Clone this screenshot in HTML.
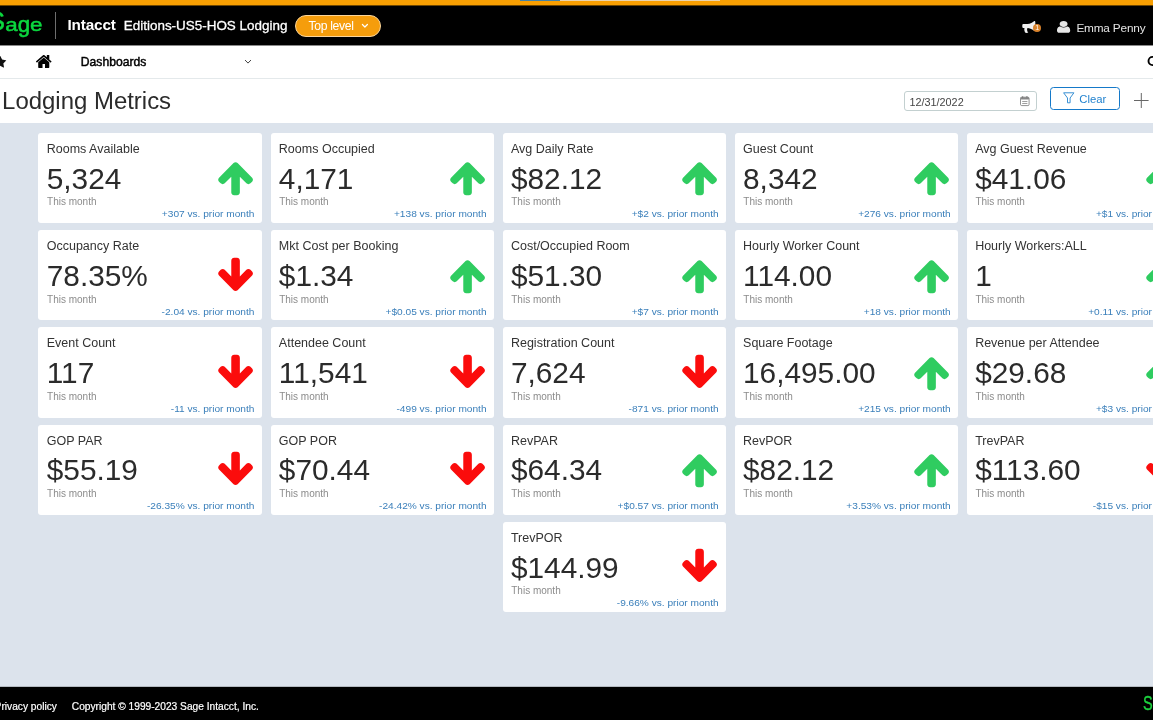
<!DOCTYPE html>
<html lang="en">
<head>
<meta charset="utf-8">
<title>Lodging Metrics</title>
<style>
*{box-sizing:border-box;margin:0;padding:0}
html,body{width:1153px;height:720px;overflow:hidden;background:#dce3ec;font-family:"Liberation Sans",Arial,Helvetica,sans-serif;color:#333}
body{position:relative}
.abs{position:absolute}
svg{display:block;overflow:visible}
#topbar{left:0;top:0;width:1153px;height:6px;background:linear-gradient(#f89f02 0,#f89f02 5px,#6e4600 5px)}
#tb1{left:520px;top:0;width:40px;height:1px;background:#4582a6}
#tb2{left:560px;top:0;width:160px;height:1px;background:#ead4ae}
#hdr{left:0;top:6px;width:1153px;height:40px;background:linear-gradient(#000 0,#000 39px,#8a8a8a 39px)}
#logo{left:0;top:0;color:#0bd83f;white-space:nowrap;-webkit-text-stroke:0.55px #0bd83f}
#logo b{font-weight:400;position:absolute;left:-11.9px;top:6.6px;font-size:25.4px;line-height:28px}
#logo span{position:absolute;left:5.2px;top:10.8px;font-size:22.4px;line-height:26px;transform:scaleY(0.855);transform-origin:0 20.77px}
#logo i{font-style:normal;display:inline-block;transform:scaleY(1.13);transform-origin:0 7.6px}
#sep{left:55px;top:12px;width:1.2px;height:27px;background:#6e6e6e}
#intacct{left:67.5px;top:16.3px;font-size:15.3px;letter-spacing:-0.15px;line-height:18px;font-weight:700;color:#fff;white-space:nowrap}
#company{left:123.8px;top:16.9px;font-size:13.45px;line-height:18px;color:#fff;white-space:nowrap;-webkit-text-stroke:0.3px #fff}
#pill{left:295px;top:14.8px;width:86px;height:22px;border-radius:11px;background:#f59d0c;border:1px solid #fbd59a;color:#fff;font-size:12.2px;letter-spacing:-0.33px;line-height:20.6px;padding-left:12.5px;white-space:nowrap}
#pillchev{left:362.3px;top:24.2px;width:5.8px;height:3.6px}
#horn{left:1022.4px;top:20.9px;width:14.6px;height:12px}
#badge{left:1033.2px;top:24px;width:8.2px;height:8.2px;border-radius:50%;background:#d9822b;color:#fff;font-size:7px;line-height:8.2px;text-align:center}
#uicon{left:1057px;top:20.9px;width:13.2px;height:11.8px}
#user{left:1076.4px;top:20.6px;letter-spacing:-0.18px;font-size:11.8px;line-height:14px;color:#e4e4e4;white-space:nowrap}
#nav{left:0;top:46px;width:1153px;height:33px;background:#fff;border-bottom:1px solid #e4e9eb}
#star{left:-6.1px;top:55.8px;width:12.2px;height:11.6px}
#home{left:35.6px;top:54.9px;width:15.5px;height:12.9px}
#dash{left:80.8px;top:53.6px;font-size:12.15px;line-height:16px;color:#000;white-space:nowrap;-webkit-text-stroke:0.45px #000}
#navchev{left:245.3px;top:59.7px;width:6px;height:3.5px}
#search{left:1147.4px;top:55.6px;width:12px;height:12px}
#titlebar{left:0;top:79px;width:1153px;height:43.6px;background:#fff}
#title{left:2.1px;top:85.5px;font-size:23.95px;line-height:30px;color:#2b2b2b;white-space:nowrap}
#date{left:904px;top:91.4px;width:133px;height:19.4px;border:1px solid #c3d0d0;border-radius:3px;background:#fff;font-size:10.8px;line-height:17.4px;padding-left:4.6px;padding-top:1.2px;color:#444}
#cal{left:1020.3px;top:96px;width:9.6px;height:10.2px}
#clear{left:1050px;top:86.7px;width:70px;height:23.2px;border:1.5px solid #1579c9;border-radius:3.5px;background:#fff;color:#2383cf;font-size:11.3px;line-height:20.2px;padding-left:28.3px;padding-top:1.2px}
#funnel{left:1063.4px;top:92.1px;width:11.5px;height:11.4px}
#plus{left:1134px;top:92.6px;width:14.6px;height:15px}
#footer{left:0;top:686px;width:1153px;height:34px;background:linear-gradient(#b4bac1 0,#b4bac1 1px,#000 1px)}
.ft{top:699.8px;font-size:10.2px;line-height:14px;color:#fff;white-space:nowrap;-webkit-text-stroke:0.2px #fff}
#flogo{left:1142.6px;top:691.6px;font-size:19.6px;line-height:22px;color:#1dd43f;white-space:nowrap;-webkit-text-stroke:0.4px #1dd43f;transform:scaleX(0.74);transform-origin:0 0}
.card{position:absolute;width:223.6px;height:90.3px;background:#fff;border-radius:3px}
.card .t{position:absolute;left:8.3px;top:7.9px;font-size:12.5px;line-height:16px;color:#333;white-space:nowrap}
.card .v{position:absolute;left:8.3px;top:28.8px;font-size:29.8px;line-height:34px;color:#2b2b2b;white-space:nowrap}
.card .m{position:absolute;left:8.6px;top:62.6px;font-size:10px;line-height:14px;color:#8c8c8c;white-space:nowrap}
.card .d{position:absolute;right:7.6px;top:74.6px;font-size:10.15px;line-height:14px;color:#3a7fba;white-space:nowrap;transform:scaleY(0.94);transform-origin:0 11px}
.card .ar{position:absolute;left:178.2px;top:25.6px;width:37.14px;height:40px}
.card .ar.up path{fill:#2fcc60}
.card .ar.down{margin-top:-1.2px}
.card .ar.down path{fill:#fb0c0c}
</style>
</head>
<body>
<div class="abs" id="topbar"></div>
<div class="abs" id="tb1"></div>
<div class="abs" id="tb2"></div>
<div class="abs" id="hdr"></div>
<div class="abs" id="logo"><b>S</b><span>a<i>g</i>e</span></div>
<div class="abs" id="sep"></div>
<div class="abs" id="intacct">Intacct</div>
<div class="abs" id="company">Editions-US5-HOS Lodging</div>
<div class="abs" id="pill">Top level</div>
<svg class="abs" id="pillchev" viewBox="0 0 58 36"><path d="M4 5 L29 30 L54 5" fill="none" stroke="#fff" stroke-width="12" stroke-linecap="round" stroke-linejoin="round"/></svg>
<svg class="abs" id="horn" viewBox="0 -1408 1792 1536"><g transform="scale(1,-1)"><path fill="#f0f0f0" d="M1664 896V1280C1664 1350 1606 1408 1536 1408C1344 1248 1024 1024 640 1024H160C72 1024 0 952 0 864V672C0 584 72 512 160 512H282C212 287 298 109 356 -69C448 -154 706 -152 768 -30C662 53 572 134 642 249C564 329 605 468 724 508C1071 479 1358 276 1536 128C1606 128 1664 186 1664 256V640C1735 640 1792 697 1792 768C1792 839 1735 896 1664 896Z"/></g></svg>
<div class="abs" id="badge">1</div>
<svg class="abs" id="uicon" viewBox="0 -1408 1280 1536" preserveAspectRatio="none"><g transform="scale(1,-1)"><path fill="#e6e6e6" d="M1280 137C1280 400 1215 704 953 704C872 625 762 576 640 576C518 576 408 625 327 704C65 704 0 400 0 137C0 -9 96 -128 213 -128H1067C1184 -128 1280 -9 1280 137ZM1024 1024C1024 1236 852 1408 640 1408C428 1408 256 1236 256 1024C256 812 428 640 640 640C852 640 1024 812 1024 1024Z"/></g></svg>
<div class="abs" id="user">Emma Penny</div>
<div class="abs" id="nav"></div>
<svg class="abs" id="star" viewBox="0 -1504 1664 1587"><g transform="scale(1,-1)"><path fill="#111" d="M1664 889C1664 919 1632 931 1608 935L1106 1008L881 1463C872 1482 855 1504 832 1504C809 1504 792 1482 783 1463L558 1008L56 935C31 931 0 919 0 889C0 871 13 854 25 841L389 487L303 -13C302 -20 301 -26 301 -33C301 -59 314 -83 343 -83C357 -83 370 -78 383 -71L832 165L1281 -71C1293 -78 1307 -83 1321 -83C1350 -83 1362 -59 1362 -33C1362 -26 1362 -20 1361 -13L1275 487L1638 841C1651 854 1664 871 1664 889Z"/></g></svg>
<svg class="abs" id="home" viewBox="26 -1284 1612 1284" preserveAspectRatio="none"><g transform="scale(1,-1)"><path fill="#000" d="M1408 544C1408 546 1408 548 1407 550L832 1024L257 550C257 548 256 546 256 544V64C256 29 285 0 320 0H704V384H960V0H1344C1379 0 1408 29 1408 64ZM1631 613C1642 626 1640 647 1627 658L1408 840V1248C1408 1266 1394 1280 1376 1280H1184C1166 1280 1152 1266 1152 1248V1053L908 1257C866 1292 798 1292 756 1257L37 658C24 647 22 626 33 613L95 539C100 533 108 529 116 528C125 527 133 530 140 535L832 1112L1524 535C1530 530 1537 528 1545 528C1546 528 1547 528 1548 528C1556 529 1564 533 1569 539L1631 613Z"/></g></svg>
<div class="abs" id="dash">Dashboards</div>
<svg class="abs" id="navchev" viewBox="0 0 60 35"><path d="M3 3 L30 31 L57 3" fill="none" stroke="#444" stroke-width="10" stroke-linecap="round" stroke-linejoin="round"/></svg>
<svg class="abs" id="search" viewBox="0 0 12 12"><circle cx="5.6" cy="5" r="4.1" fill="none" stroke="#000" stroke-width="1.9"/></svg>
<div class="abs" id="titlebar"></div>
<div class="abs" id="title">Lodging Metrics</div>
<div class="abs" id="date">12/31/2022</div>
<svg class="abs" id="cal" viewBox="0 0 96 102"><rect x="5" y="12" width="86" height="84" rx="12" fill="none" stroke="#777" stroke-width="8"/><rect x="5" y="12" width="86" height="24" rx="8" fill="#888"/><rect x="22" y="0" width="9" height="22" rx="4" fill="#777"/><rect x="65" y="0" width="9" height="22" rx="4" fill="#777"/><rect x="22" y="52" width="52" height="8" fill="#888"/><rect x="22" y="70" width="52" height="8" fill="#888"/></svg>
<div class="abs" id="clear">Clear</div>
<svg class="abs" id="funnel" viewBox="0 0 115 114"><path d="M6 8 H109 L71 60 V108 H45 V60 Z" fill="none" stroke="#2383cf" stroke-width="9" stroke-linejoin="round"/></svg>
<svg class="abs" id="plus" viewBox="0 0 146 150"><path d="M73 0 V150 M0 75 H146" fill="none" stroke="#666" stroke-width="10"/></svg>
<div class="card" style="left:38.45px;top:132.90px"><div class="t">Rooms Available</div><div class="v">5,324</div><div class="m">This month</div><div class="d">+307 vs. prior month</div><svg class="ar up" viewBox="0 -1536 1664 1792"><g transform="scale(1,-1)"><path d="M1611 565C1611 599 1597 632 1574 656L923 1307C899 1331 866 1344 832 1344C798 1344 765 1331 742 1307L91 656C67 632 53 599 53 565C53 531 67 499 91 475L166 400C189 376 222 362 256 362C290 362 323 376 346 400L640 693V-11C640 -83 700 -128 768 -128H896C964 -128 1024 -83 1024 -11V693L1318 400C1341 376 1374 362 1408 362C1442 362 1475 376 1499 400L1574 475C1597 499 1611 531 1611 565Z"/></g></svg></div>
<div class="card" style="left:270.55px;top:132.90px"><div class="t">Rooms Occupied</div><div class="v">4,171</div><div class="m">This month</div><div class="d">+138 vs. prior month</div><svg class="ar up" viewBox="0 -1536 1664 1792"><g transform="scale(1,-1)"><path d="M1611 565C1611 599 1597 632 1574 656L923 1307C899 1331 866 1344 832 1344C798 1344 765 1331 742 1307L91 656C67 632 53 599 53 565C53 531 67 499 91 475L166 400C189 376 222 362 256 362C290 362 323 376 346 400L640 693V-11C640 -83 700 -128 768 -128H896C964 -128 1024 -83 1024 -11V693L1318 400C1341 376 1374 362 1408 362C1442 362 1475 376 1499 400L1574 475C1597 499 1611 531 1611 565Z"/></g></svg></div>
<div class="card" style="left:502.65px;top:132.90px"><div class="t">Avg Daily Rate</div><div class="v">$82.12</div><div class="m">This month</div><div class="d">+$2 vs. prior month</div><svg class="ar up" viewBox="0 -1536 1664 1792"><g transform="scale(1,-1)"><path d="M1611 565C1611 599 1597 632 1574 656L923 1307C899 1331 866 1344 832 1344C798 1344 765 1331 742 1307L91 656C67 632 53 599 53 565C53 531 67 499 91 475L166 400C189 376 222 362 256 362C290 362 323 376 346 400L640 693V-11C640 -83 700 -128 768 -128H896C964 -128 1024 -83 1024 -11V693L1318 400C1341 376 1374 362 1408 362C1442 362 1475 376 1499 400L1574 475C1597 499 1611 531 1611 565Z"/></g></svg></div>
<div class="card" style="left:734.75px;top:132.90px"><div class="t">Guest Count</div><div class="v">8,342</div><div class="m">This month</div><div class="d">+276 vs. prior month</div><svg class="ar up" viewBox="0 -1536 1664 1792"><g transform="scale(1,-1)"><path d="M1611 565C1611 599 1597 632 1574 656L923 1307C899 1331 866 1344 832 1344C798 1344 765 1331 742 1307L91 656C67 632 53 599 53 565C53 531 67 499 91 475L166 400C189 376 222 362 256 362C290 362 323 376 346 400L640 693V-11C640 -83 700 -128 768 -128H896C964 -128 1024 -83 1024 -11V693L1318 400C1341 376 1374 362 1408 362C1442 362 1475 376 1499 400L1574 475C1597 499 1611 531 1611 565Z"/></g></svg></div>
<div class="card" style="left:966.85px;top:132.90px"><div class="t">Avg Guest Revenue</div><div class="v">$41.06</div><div class="m">This month</div><div class="d">+$1 vs. prior month</div><svg class="ar up" viewBox="0 -1536 1664 1792"><g transform="scale(1,-1)"><path d="M1611 565C1611 599 1597 632 1574 656L923 1307C899 1331 866 1344 832 1344C798 1344 765 1331 742 1307L91 656C67 632 53 599 53 565C53 531 67 499 91 475L166 400C189 376 222 362 256 362C290 362 323 376 346 400L640 693V-11C640 -83 700 -128 768 -128H896C964 -128 1024 -83 1024 -11V693L1318 400C1341 376 1374 362 1408 362C1442 362 1475 376 1499 400L1574 475C1597 499 1611 531 1611 565Z"/></g></svg></div>
<div class="card" style="left:38.45px;top:230.15px"><div class="t">Occupancy Rate</div><div class="v">78.35%</div><div class="m">This month</div><div class="d">-2.04 vs. prior month</div><svg class="ar down" viewBox="0 -1536 1664 1792"><g transform="scale(1,-1)"><path d="M1611 704C1611 738 1597 771 1574 795L1499 870C1475 893 1442 907 1408 907C1374 907 1341 893 1318 870L1024 576V1280C1024 1350 966 1408 896 1408H768C698 1408 640 1350 640 1280V576L346 870C323 893 290 907 256 907C222 907 189 893 165 870L91 795C67 771 53 738 53 704C53 670 67 637 91 614L742 -38C765 -61 798 -75 832 -75C866 -75 899 -61 923 -38L1574 614C1597 637 1611 670 1611 704Z"/></g></svg></div>
<div class="card" style="left:270.55px;top:230.15px"><div class="t">Mkt Cost per Booking</div><div class="v">$1.34</div><div class="m">This month</div><div class="d">+$0.05 vs. prior month</div><svg class="ar up" viewBox="0 -1536 1664 1792"><g transform="scale(1,-1)"><path d="M1611 565C1611 599 1597 632 1574 656L923 1307C899 1331 866 1344 832 1344C798 1344 765 1331 742 1307L91 656C67 632 53 599 53 565C53 531 67 499 91 475L166 400C189 376 222 362 256 362C290 362 323 376 346 400L640 693V-11C640 -83 700 -128 768 -128H896C964 -128 1024 -83 1024 -11V693L1318 400C1341 376 1374 362 1408 362C1442 362 1475 376 1499 400L1574 475C1597 499 1611 531 1611 565Z"/></g></svg></div>
<div class="card" style="left:502.65px;top:230.15px"><div class="t">Cost/Occupied Room</div><div class="v">$51.30</div><div class="m">This month</div><div class="d">+$7 vs. prior month</div><svg class="ar up" viewBox="0 -1536 1664 1792"><g transform="scale(1,-1)"><path d="M1611 565C1611 599 1597 632 1574 656L923 1307C899 1331 866 1344 832 1344C798 1344 765 1331 742 1307L91 656C67 632 53 599 53 565C53 531 67 499 91 475L166 400C189 376 222 362 256 362C290 362 323 376 346 400L640 693V-11C640 -83 700 -128 768 -128H896C964 -128 1024 -83 1024 -11V693L1318 400C1341 376 1374 362 1408 362C1442 362 1475 376 1499 400L1574 475C1597 499 1611 531 1611 565Z"/></g></svg></div>
<div class="card" style="left:734.75px;top:230.15px"><div class="t">Hourly Worker Count</div><div class="v">114.00</div><div class="m">This month</div><div class="d">+18 vs. prior month</div><svg class="ar up" viewBox="0 -1536 1664 1792"><g transform="scale(1,-1)"><path d="M1611 565C1611 599 1597 632 1574 656L923 1307C899 1331 866 1344 832 1344C798 1344 765 1331 742 1307L91 656C67 632 53 599 53 565C53 531 67 499 91 475L166 400C189 376 222 362 256 362C290 362 323 376 346 400L640 693V-11C640 -83 700 -128 768 -128H896C964 -128 1024 -83 1024 -11V693L1318 400C1341 376 1374 362 1408 362C1442 362 1475 376 1499 400L1574 475C1597 499 1611 531 1611 565Z"/></g></svg></div>
<div class="card" style="left:966.85px;top:230.15px"><div class="t">Hourly Workers:ALL</div><div class="v">1</div><div class="m">This month</div><div class="d">+0.11 vs. prior month</div><svg class="ar up" viewBox="0 -1536 1664 1792"><g transform="scale(1,-1)"><path d="M1611 565C1611 599 1597 632 1574 656L923 1307C899 1331 866 1344 832 1344C798 1344 765 1331 742 1307L91 656C67 632 53 599 53 565C53 531 67 499 91 475L166 400C189 376 222 362 256 362C290 362 323 376 346 400L640 693V-11C640 -83 700 -128 768 -128H896C964 -128 1024 -83 1024 -11V693L1318 400C1341 376 1374 362 1408 362C1442 362 1475 376 1499 400L1574 475C1597 499 1611 531 1611 565Z"/></g></svg></div>
<div class="card" style="left:38.45px;top:327.40px"><div class="t">Event Count</div><div class="v">117</div><div class="m">This month</div><div class="d">-11 vs. prior month</div><svg class="ar down" viewBox="0 -1536 1664 1792"><g transform="scale(1,-1)"><path d="M1611 704C1611 738 1597 771 1574 795L1499 870C1475 893 1442 907 1408 907C1374 907 1341 893 1318 870L1024 576V1280C1024 1350 966 1408 896 1408H768C698 1408 640 1350 640 1280V576L346 870C323 893 290 907 256 907C222 907 189 893 165 870L91 795C67 771 53 738 53 704C53 670 67 637 91 614L742 -38C765 -61 798 -75 832 -75C866 -75 899 -61 923 -38L1574 614C1597 637 1611 670 1611 704Z"/></g></svg></div>
<div class="card" style="left:270.55px;top:327.40px"><div class="t">Attendee Count</div><div class="v">11,541</div><div class="m">This month</div><div class="d">-499 vs. prior month</div><svg class="ar down" viewBox="0 -1536 1664 1792"><g transform="scale(1,-1)"><path d="M1611 704C1611 738 1597 771 1574 795L1499 870C1475 893 1442 907 1408 907C1374 907 1341 893 1318 870L1024 576V1280C1024 1350 966 1408 896 1408H768C698 1408 640 1350 640 1280V576L346 870C323 893 290 907 256 907C222 907 189 893 165 870L91 795C67 771 53 738 53 704C53 670 67 637 91 614L742 -38C765 -61 798 -75 832 -75C866 -75 899 -61 923 -38L1574 614C1597 637 1611 670 1611 704Z"/></g></svg></div>
<div class="card" style="left:502.65px;top:327.40px"><div class="t">Registration Count</div><div class="v">7,624</div><div class="m">This month</div><div class="d">-871 vs. prior month</div><svg class="ar down" viewBox="0 -1536 1664 1792"><g transform="scale(1,-1)"><path d="M1611 704C1611 738 1597 771 1574 795L1499 870C1475 893 1442 907 1408 907C1374 907 1341 893 1318 870L1024 576V1280C1024 1350 966 1408 896 1408H768C698 1408 640 1350 640 1280V576L346 870C323 893 290 907 256 907C222 907 189 893 165 870L91 795C67 771 53 738 53 704C53 670 67 637 91 614L742 -38C765 -61 798 -75 832 -75C866 -75 899 -61 923 -38L1574 614C1597 637 1611 670 1611 704Z"/></g></svg></div>
<div class="card" style="left:734.75px;top:327.40px"><div class="t">Square Footage</div><div class="v">16,495.00</div><div class="m">This month</div><div class="d">+215 vs. prior month</div><svg class="ar up" viewBox="0 -1536 1664 1792"><g transform="scale(1,-1)"><path d="M1611 565C1611 599 1597 632 1574 656L923 1307C899 1331 866 1344 832 1344C798 1344 765 1331 742 1307L91 656C67 632 53 599 53 565C53 531 67 499 91 475L166 400C189 376 222 362 256 362C290 362 323 376 346 400L640 693V-11C640 -83 700 -128 768 -128H896C964 -128 1024 -83 1024 -11V693L1318 400C1341 376 1374 362 1408 362C1442 362 1475 376 1499 400L1574 475C1597 499 1611 531 1611 565Z"/></g></svg></div>
<div class="card" style="left:966.85px;top:327.40px"><div class="t">Revenue per Attendee</div><div class="v">$29.68</div><div class="m">This month</div><div class="d">+$3 vs. prior month</div><svg class="ar up" viewBox="0 -1536 1664 1792"><g transform="scale(1,-1)"><path d="M1611 565C1611 599 1597 632 1574 656L923 1307C899 1331 866 1344 832 1344C798 1344 765 1331 742 1307L91 656C67 632 53 599 53 565C53 531 67 499 91 475L166 400C189 376 222 362 256 362C290 362 323 376 346 400L640 693V-11C640 -83 700 -128 768 -128H896C964 -128 1024 -83 1024 -11V693L1318 400C1341 376 1374 362 1408 362C1442 362 1475 376 1499 400L1574 475C1597 499 1611 531 1611 565Z"/></g></svg></div>
<div class="card" style="left:38.45px;top:424.65px"><div class="t">GOP PAR</div><div class="v">$55.19</div><div class="m">This month</div><div class="d">-26.35% vs. prior month</div><svg class="ar down" viewBox="0 -1536 1664 1792"><g transform="scale(1,-1)"><path d="M1611 704C1611 738 1597 771 1574 795L1499 870C1475 893 1442 907 1408 907C1374 907 1341 893 1318 870L1024 576V1280C1024 1350 966 1408 896 1408H768C698 1408 640 1350 640 1280V576L346 870C323 893 290 907 256 907C222 907 189 893 165 870L91 795C67 771 53 738 53 704C53 670 67 637 91 614L742 -38C765 -61 798 -75 832 -75C866 -75 899 -61 923 -38L1574 614C1597 637 1611 670 1611 704Z"/></g></svg></div>
<div class="card" style="left:270.55px;top:424.65px"><div class="t">GOP POR</div><div class="v">$70.44</div><div class="m">This month</div><div class="d">-24.42% vs. prior month</div><svg class="ar down" viewBox="0 -1536 1664 1792"><g transform="scale(1,-1)"><path d="M1611 704C1611 738 1597 771 1574 795L1499 870C1475 893 1442 907 1408 907C1374 907 1341 893 1318 870L1024 576V1280C1024 1350 966 1408 896 1408H768C698 1408 640 1350 640 1280V576L346 870C323 893 290 907 256 907C222 907 189 893 165 870L91 795C67 771 53 738 53 704C53 670 67 637 91 614L742 -38C765 -61 798 -75 832 -75C866 -75 899 -61 923 -38L1574 614C1597 637 1611 670 1611 704Z"/></g></svg></div>
<div class="card" style="left:502.65px;top:424.65px"><div class="t">RevPAR</div><div class="v">$64.34</div><div class="m">This month</div><div class="d">+$0.57 vs. prior month</div><svg class="ar up" viewBox="0 -1536 1664 1792"><g transform="scale(1,-1)"><path d="M1611 565C1611 599 1597 632 1574 656L923 1307C899 1331 866 1344 832 1344C798 1344 765 1331 742 1307L91 656C67 632 53 599 53 565C53 531 67 499 91 475L166 400C189 376 222 362 256 362C290 362 323 376 346 400L640 693V-11C640 -83 700 -128 768 -128H896C964 -128 1024 -83 1024 -11V693L1318 400C1341 376 1374 362 1408 362C1442 362 1475 376 1499 400L1574 475C1597 499 1611 531 1611 565Z"/></g></svg></div>
<div class="card" style="left:734.75px;top:424.65px"><div class="t">RevPOR</div><div class="v">$82.12</div><div class="m">This month</div><div class="d">+3.53% vs. prior month</div><svg class="ar up" viewBox="0 -1536 1664 1792"><g transform="scale(1,-1)"><path d="M1611 565C1611 599 1597 632 1574 656L923 1307C899 1331 866 1344 832 1344C798 1344 765 1331 742 1307L91 656C67 632 53 599 53 565C53 531 67 499 91 475L166 400C189 376 222 362 256 362C290 362 323 376 346 400L640 693V-11C640 -83 700 -128 768 -128H896C964 -128 1024 -83 1024 -11V693L1318 400C1341 376 1374 362 1408 362C1442 362 1475 376 1499 400L1574 475C1597 499 1611 531 1611 565Z"/></g></svg></div>
<div class="card" style="left:966.85px;top:424.65px"><div class="t">TrevPAR</div><div class="v">$113.60</div><div class="m">This month</div><div class="d">-$15 vs. prior month</div><svg class="ar down" viewBox="0 -1536 1664 1792"><g transform="scale(1,-1)"><path d="M1611 704C1611 738 1597 771 1574 795L1499 870C1475 893 1442 907 1408 907C1374 907 1341 893 1318 870L1024 576V1280C1024 1350 966 1408 896 1408H768C698 1408 640 1350 640 1280V576L346 870C323 893 290 907 256 907C222 907 189 893 165 870L91 795C67 771 53 738 53 704C53 670 67 637 91 614L742 -38C765 -61 798 -75 832 -75C866 -75 899 -61 923 -38L1574 614C1597 637 1611 670 1611 704Z"/></g></svg></div>
<div class="card" style="left:502.65px;top:521.90px"><div class="t">TrevPOR</div><div class="v">$144.99</div><div class="m">This month</div><div class="d">-9.66% vs. prior month</div><svg class="ar down" viewBox="0 -1536 1664 1792"><g transform="scale(1,-1)"><path d="M1611 704C1611 738 1597 771 1574 795L1499 870C1475 893 1442 907 1408 907C1374 907 1341 893 1318 870L1024 576V1280C1024 1350 966 1408 896 1408H768C698 1408 640 1350 640 1280V576L346 870C323 893 290 907 256 907C222 907 189 893 165 870L91 795C67 771 53 738 53 704C53 670 67 637 91 614L742 -38C765 -61 798 -75 832 -75C866 -75 899 -61 923 -38L1574 614C1597 637 1611 670 1611 704Z"/></g></svg></div>
<div class="abs" id="footer"></div>
<div class="abs ft" style="left:-5.4px">Privacy policy</div>
<div class="abs ft" style="left:71.8px">Copyright © 1999-2023 Sage Intacct, Inc.</div>
<div class="abs" id="flogo">Sage</div>
</body>
</html>
